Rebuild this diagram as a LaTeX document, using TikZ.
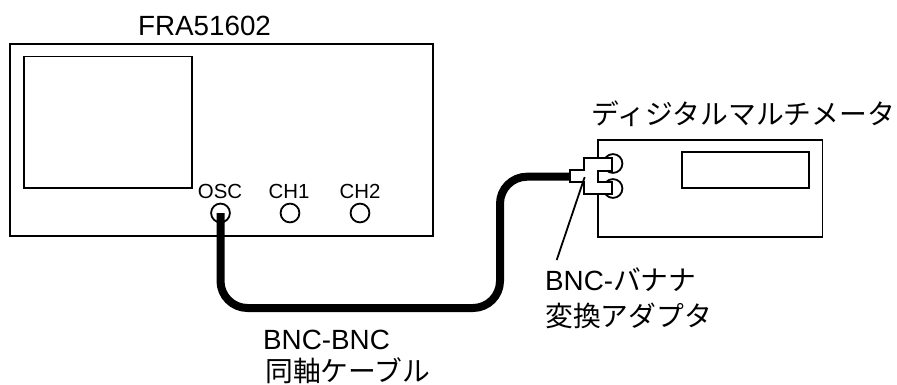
\documentclass[tikz,border=0pt]{standalone}
\usepackage{fontspec}
\setmainfont{Liberation Sans}
\newfontfamily\cjk{Noto Sans CJK JP}
\tikzset{
  panel/.style={draw=black,line width=1.8pt,fill=white,inner sep=0pt,outer sep=0pt,rectangle,anchor=north west},
  jack/.style={draw=black,line width=1.8pt,fill=white,circle,inner sep=0pt,outer sep=0pt,minimum size=18.8pt},
  big/.style={font=\fontsize{27.8}{30}\selectfont,inner sep=0pt,anchor=base west},
  small/.style={font=\fontsize{20.4}{24}\selectfont,inner sep=0pt,anchor=base},
  cable/.style={line width=8pt,rounded corners=27pt,line cap=butt}
}
\begin{document}
\begin{tikzpicture}[x=1pt,y=-1pt]
\useasboundingbox (0,0) rectangle (897,385);
\node[panel,minimum width=423pt,minimum height=192pt] (fra) at (10,44) {};
\node[panel,minimum width=168pt,minimum height=131.5pt] (screen) at (24,56.5) {};
\node[big,anchor=base] (fralabel) at (204.5,35.7) {FRA51602};
\node[jack] (osc) at (220.5,213) {};
\node[jack] (ch1) at (290,213) {};
\node[jack] (ch2) at (360,213) {};
\node[small] (osclabel) at (220,198) {OSC};
\node[small] (ch1label) at (289,198) {CH1};
\node[small] (ch2label) at (360,198) {CH2};
\node[panel,minimum width=224.5pt,minimum height=97pt] (dmm) at (598,140) {};
\node[panel,minimum width=127pt,minimum height=36pt] (disp) at (682,152) {};
\node[big,anchor=center] (dmmlabel) at (743.5,114) {\cjk ディジタルマルチメータ};
\node[jack] (ban1) at (613,163.5) {};
\node[jack] (ban2) at (613,188.5) {};
\coordinate (plug) at (570,176.7);
\draw[cable] (osc.center) -- (220.5,308) -- (500,308) -- (500,176.7) -- (plug);
\draw[line width=1.8pt,fill=white] (612,158) -- (584,158) -- (584,170) -- (570,170) -- (570,181.7) -- (584,181.7) -- (584,194) -- (612,194) -- (612,181.7) -- (598,181.7) -- (598,171) -- (612,171) -- cycle;
\node[big] (adapt1) at (545,290) {BNC-{\cjk バナナ}};
\node[big] (adapt2) at (545,326.5) {\cjk 変換アダプタ};
\node[big] (cab1) at (263,349) {BNC-BNC};
\node[big] (cab2) at (265,381.5) {\cjk 同軸ケーブル};
\coordinate (leadtop) at (584.7,177);
\coordinate (leadend) at (556.7,260);
\draw[line width=1.8pt] (leadtop) -- (leadend);
\end{tikzpicture}
\end{document}
